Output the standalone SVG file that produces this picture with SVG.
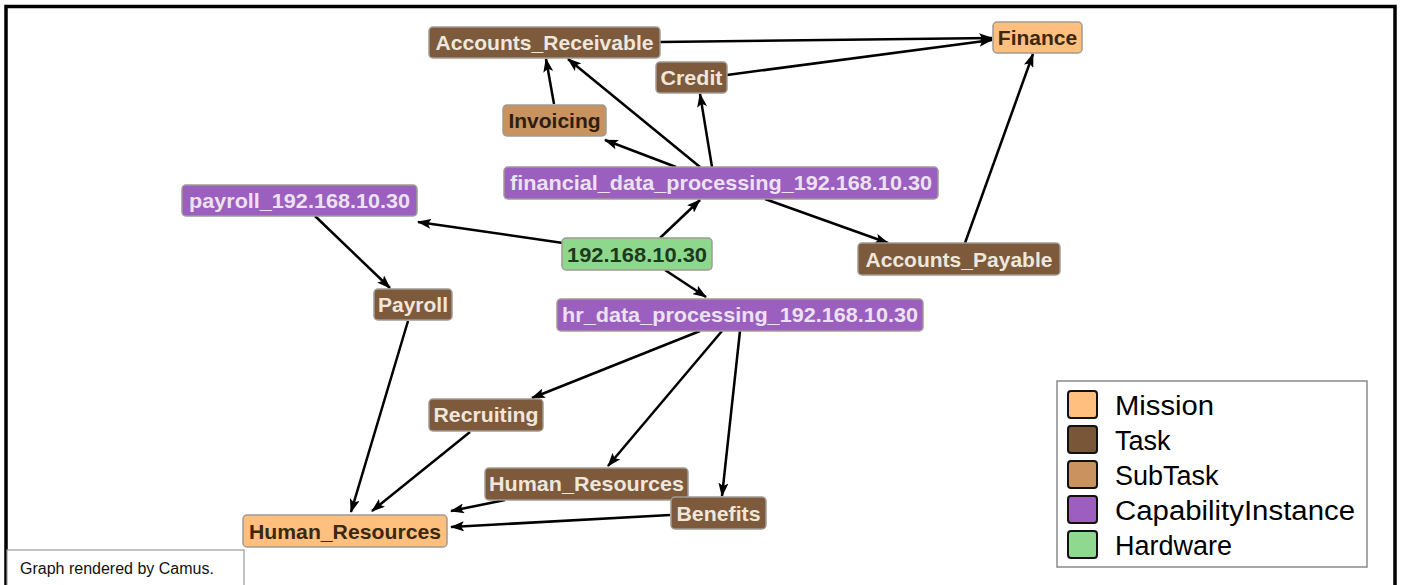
<svg xmlns="http://www.w3.org/2000/svg" width="1401" height="585" viewBox="0 0 1401 585">
<style>
.node rect{stroke:#a09a94;stroke-width:1.5}
.node text{font-family:"Liberation Sans",Arial,sans-serif;font-weight:bold;font-size:21px;text-anchor:middle}
.mission rect{fill:#ffc07f}
.mission text{fill:#3a2810}
.task rect{fill:#7c5a3b}
.task text{fill:#efe6dc}
.subtask rect{fill:#c8935f}
.subtask text{fill:#2e1e10}
.cap rect{fill:#9b5fbf}
.cap text{fill:#ece2f2}
.hw rect{fill:#8ed88e}
.hw text{fill:#1c3a1c}
.edges path{fill:none;stroke:#000;stroke-width:2.5;marker-end:url(#arr)}
.legend text{font-family:"Liberation Sans",Arial,sans-serif;font-size:27px;fill:#000}
.legend .sw{stroke:#111;stroke-width:2}
</style>
<defs>
<marker id="arr" markerUnits="userSpaceOnUse" markerWidth="14" markerHeight="10" refX="13" refY="5" orient="auto">
<path d="M0,0 L14,5 L0,10 L3,5 z" fill="#000"/>
</marker>
</defs>
<rect x="0" y="0" width="1401" height="585" fill="#fff"/>
<rect x="6" y="6.5" width="1389" height="600" fill="none" stroke="#000" stroke-width="3.5"/>

<g id="connectors" class="edges">
<path d="M660,42 L992,38"/>
<path d="M727,75 L992,40"/>
<path d="M554,104 L546,59"/>
<path d="M700,167 L568,59"/>
<path d="M712,167 L700,94"/>
<path d="M676,167 L605,140"/>
<path d="M765,199 L888,243"/>
<path d="M965,243 L1033,54"/>
<path d="M660,238 L700,200"/>
<path d="M563,243 L418,222"/>
<path d="M665,270 L706,297"/>
<path d="M315,216 L390,288"/>
<path d="M408,321 L351,512"/>
<path d="M470,432 L372,511"/>
<path d="M700,331 L532,398"/>
<path d="M722,331 L608,466"/>
<path d="M740,331 L722,496"/>
<path d="M505,500 L451,511"/>
<path d="M670,515 L451,527"/>
</g>

<g id="n-accounts-receivable" class="node task"><rect x="429" y="27" width="231" height="31" rx="4"/><text x="544.5" y="50" textLength="218" lengthAdjust="spacingAndGlyphs">Accounts_Receivable</text></g>
<g id="n-finance" class="node mission"><rect x="993" y="22" width="89" height="31" rx="4"/><text x="1037.5" y="45">Finance</text></g>
<g id="n-credit" class="node task"><rect x="656" y="62" width="71" height="31" rx="4"/><text x="691.5" y="85" textLength="62" lengthAdjust="spacingAndGlyphs">Credit</text></g>
<g id="n-invoicing" class="node subtask"><rect x="503" y="105" width="103" height="31" rx="4"/><text x="554.5" y="128">Invoicing</text></g>
<g id="n-financial-dp" class="node cap"><rect x="504" y="167" width="434" height="32" rx="4"/><text x="721" y="190" textLength="422" lengthAdjust="spacingAndGlyphs">financial_data_processing_192.168.10.30</text></g>
<g id="n-payroll-cap" class="node cap"><rect x="182" y="185" width="235" height="31" rx="4"/><text x="299.5" y="208" textLength="221" lengthAdjust="spacingAndGlyphs">payroll_192.168.10.30</text></g>
<g id="n-hardware" class="node hw"><rect x="562" y="238" width="150" height="32" rx="4"/><text x="637" y="262" textLength="140" lengthAdjust="spacingAndGlyphs">192.168.10.30</text></g>
<g id="n-accounts-payable" class="node task"><rect x="858" y="243" width="202" height="32" rx="4"/><text x="959" y="267" textLength="187" lengthAdjust="spacingAndGlyphs">Accounts_Payable</text></g>
<g id="n-payroll" class="node task"><rect x="374" y="289" width="78" height="31" rx="4"/><text x="413" y="312">Payroll</text></g>
<g id="n-hr-dp" class="node cap"><rect x="557" y="299" width="366" height="32" rx="4"/><text x="740" y="322" textLength="356" lengthAdjust="spacingAndGlyphs">hr_data_processing_192.168.10.30</text></g>
<g id="n-recruiting" class="node task"><rect x="429" y="399" width="114" height="32" rx="4"/><text x="486" y="422" textLength="105" lengthAdjust="spacingAndGlyphs">Recruiting</text></g>
<g id="n-hr-task" class="node task"><rect x="485" y="468" width="203" height="32" rx="4"/><text x="586.5" y="491" textLength="195" lengthAdjust="spacingAndGlyphs">Human_Resources</text></g>
<g id="n-benefits" class="node task"><rect x="671" y="497" width="95" height="32" rx="4"/><text x="718.5" y="521" textLength="84" lengthAdjust="spacingAndGlyphs">Benefits</text></g>
<g id="n-hr-mission" class="node mission"><rect x="243" y="515" width="204" height="32" rx="4"/><text x="345" y="539" textLength="192" lengthAdjust="spacingAndGlyphs">Human_Resources</text></g>

<g id="legend" class="legend">
<rect x="1057" y="381" width="310" height="186" fill="#fff" stroke="#8a8a8a" stroke-width="1.5"/>
<rect class="sw" x="1068" y="391" width="29" height="27" rx="3" fill="#ffc07f"/><text x="1115" y="415" textLength="99" lengthAdjust="spacingAndGlyphs">Mission</text>
<rect class="sw" x="1068" y="426" width="29" height="27" rx="3" fill="#7a5638"/><text x="1115" y="450">Task</text>
<rect class="sw" x="1068" y="461" width="29" height="27" rx="3" fill="#c8935f"/><text x="1115" y="485">SubTask</text>
<rect class="sw" x="1068" y="496" width="29" height="27" rx="3" fill="#9c5fbf"/><text x="1115" y="520" textLength="240" lengthAdjust="spacingAndGlyphs">CapabilityInstance</text>
<rect class="sw" x="1068" y="531" width="29" height="27" rx="3" fill="#8ed88f"/><text x="1115" y="555">Hardware</text>
</g>

<g id="credit-note">
<rect x="7" y="550" width="237" height="40" fill="#fff" stroke="#9a9a9a" stroke-width="1.2"/>
<text x="20" y="574" font-family="'Liberation Sans',Arial,sans-serif" font-size="16" fill="#111">Graph rendered by Camus.</text>
</g>
</svg>
